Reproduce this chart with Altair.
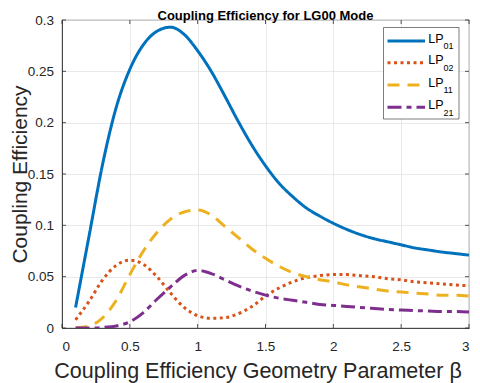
import altair as alt
import pandas as pd

beta = [0.1, 0.2, 0.3, 0.4, 0.5, 0.6, 0.7, 0.8, 0.9, 1.0,
        1.1, 1.2, 1.3, 1.4, 1.5, 1.6, 1.7, 1.8, 1.9, 2.0,
        2.1, 2.2, 2.3, 2.4, 2.5, 2.6, 2.7, 2.8, 2.9, 3.0]
lp01 = [0.020, 0.090, 0.160, 0.215, 0.252, 0.276, 0.289, 0.293, 0.286, 0.270,
        0.250, 0.226, 0.201, 0.178, 0.158, 0.141, 0.128, 0.117, 0.109, 0.102,
        0.096, 0.091, 0.087, 0.084, 0.081, 0.078, 0.076, 0.074, 0.0725, 0.071]
lp02 = [0.008, 0.026, 0.047, 0.061, 0.066, 0.062, 0.050, 0.034, 0.020, 0.012,
        0.0095, 0.010, 0.014, 0.021, 0.031, 0.039, 0.045, 0.049, 0.051, 0.052,
        0.052, 0.051, 0.050, 0.048, 0.047, 0.045, 0.044, 0.043, 0.042, 0.041]
lp11 = [0.0002, 0.002, 0.010, 0.027, 0.052, 0.075, 0.093, 0.106, 0.113, 0.115,
        0.110, 0.099, 0.088, 0.077, 0.068, 0.060, 0.054, 0.050, 0.047, 0.045,
        0.042, 0.040, 0.038, 0.036, 0.035, 0.034, 0.033, 0.032, 0.032, 0.031]
lp21 = [0.0, 0.0, 0.0005, 0.002, 0.006, 0.015, 0.028, 0.040, 0.051, 0.056,
        0.053, 0.047, 0.041, 0.036, 0.032, 0.029, 0.027, 0.025, 0.023, 0.022,
        0.021, 0.020, 0.019, 0.018, 0.0175, 0.017, 0.0165, 0.016, 0.016, 0.0155]

series_names = ["LP01", "LP02", "LP11", "LP21"]
series_sub = ["01", "02", "11", "21"]
colors = ["#0072BD", "#D95319", "#EDB120", "#7E2F8E"]
dashes = [[1, 0], [3, 3.5], [12, 8], [14, 5, 5, 5]]
x_ticks = [0, 0.5, 1, 1.5, 2, 2.5, 3]
y_ticks = [0, 0.05, 0.1, 0.15, 0.2, 0.25, 0.3]
title_text = "Coupling Efficiency for LG00 Mode"

rows = []
for name, vals in zip(series_names, [lp01, lp02, lp11, lp21]):
    for b, v in zip(beta, vals):
        rows.append({"beta": b, "ce": v, "mode": name})
df = pd.DataFrame(rows)

W, H = 407, 308
FONT = "Liberation Sans"
GRAY = "#262626"

xs = alt.Scale(domain=[0, 3], nice=False)
ys = alt.Scale(domain=[0, 0.3], nice=False)

lines = alt.Chart(df).mark_line(strokeWidth=3, interpolate="monotone", clip=True).encode(
    x=alt.X("beta:Q", scale=xs,
            axis=alt.Axis(values=x_ticks, title="Coupling Efficiency Geometry Parameter β",
                          ticks=False, labelPadding=11,
                          titleX=195.5, titleY=49.5, titleBaseline="alphabetic",
                          labelFontSize=13.5, titleFontSize=21.5, titleFontWeight="normal",
                          format="~g")),
    y=alt.Y("ce:Q", scale=ys,
            axis=alt.Axis(values=y_ticks, title="Coupling Efficiency",
                          ticks=False, labelPadding=8.5,
                          titleX=-53, titleBaseline="top",
                          labelFontSize=13.5, titleFontSize=21, titleFontWeight="normal",
                          format="~g")),
    color=alt.Color("mode:N", scale=alt.Scale(domain=series_names, range=colors), legend=None),
    strokeDash=alt.StrokeDash("mode:N", scale=alt.Scale(domain=series_names, range=dashes), legend=None),
    order=alt.Order("beta:Q"),
)

xt = pd.DataFrame({"t": x_ticks})
yt = pd.DataFrame({"t": y_ticks})
tick_len_y = 0.3 * 4 / H
tick_len_x = 3 * 4 / W
tick_layers = [
    alt.Chart(xt).mark_rule(color=GRAY, strokeWidth=0.8).encode(
        x=alt.X("t:Q", scale=xs), y=alt.datum(0, scale=ys), y2=alt.datum(tick_len_y)),
    alt.Chart(xt).mark_rule(color=GRAY, strokeWidth=0.8).encode(
        x=alt.X("t:Q", scale=xs), y=alt.datum(0.3 - tick_len_y, scale=ys), y2=alt.datum(0.3)),
    alt.Chart(yt).mark_rule(color=GRAY, strokeWidth=0.8).encode(
        y=alt.Y("t:Q", scale=ys), x=alt.datum(0, scale=xs), x2=alt.datum(tick_len_x)),
    alt.Chart(yt).mark_rule(color=GRAY, strokeWidth=0.8).encode(
        y=alt.Y("t:Q", scale=ys), x=alt.datum(3 - tick_len_x, scale=xs), x2=alt.datum(3)),
]

one = alt.Data(values=[{}])
title_layer = alt.Chart(one).mark_text(
    text=title_text, font=FONT, fontSize=13, fontWeight="bold", align="center",
    baseline="alphabetic", color="#000000").encode(x=alt.value(W / 2), y=alt.value(0))

legend_layers = [
    alt.Chart(one).mark_rect(fill="white", stroke="#262626", strokeWidth=0.6).encode(
        x=alt.value(321.5), x2=alt.value(397), y=alt.value(7.5), y2=alt.value(99)),
]
ly = [21, 42.7, 65, 87.3]
for i in range(4):
    legend_layers.append(
        alt.Chart(one).mark_rule(color=colors[i], strokeWidth=3, strokeDash=dashes[i]).encode(
            x=alt.value(325.5), x2=alt.value(363), y=alt.value(ly[i])))
    legend_layers.append(
        alt.Chart(one).mark_text(text="LP", font=FONT, fontSize=12.5, align="left",
                                 baseline="alphabetic", color="#000000").encode(
            x=alt.value(366.3), y=alt.value(ly[i] + 1.7)))
    legend_layers.append(
        alt.Chart(one).mark_text(text=series_sub[i], font=FONT, fontSize=9, align="left",
                                 baseline="alphabetic", color="#000000").encode(
            x=alt.value(381.5), y=alt.value(ly[i] + 8.3)))

chart = alt.layer(lines, *tick_layers, title_layer, *legend_layers).properties(
    width=W, height=H,
    autosize=alt.AutoSizeParams(type="none"),
    padding={"left": 54, "top": 12, "right": 3, "bottom": 55},
).configure_axis(
    labelFont=FONT, titleFont=FONT, labelColor=GRAY, titleColor=GRAY,
    gridColor="#e3e3e3", gridWidth=0.8, domainColor=GRAY, domainWidth=0.8,
).configure_view(stroke=GRAY, strokeWidth=0.8)

chart.save("out.html", embed_options={"renderer": "svg", "actions": False})
